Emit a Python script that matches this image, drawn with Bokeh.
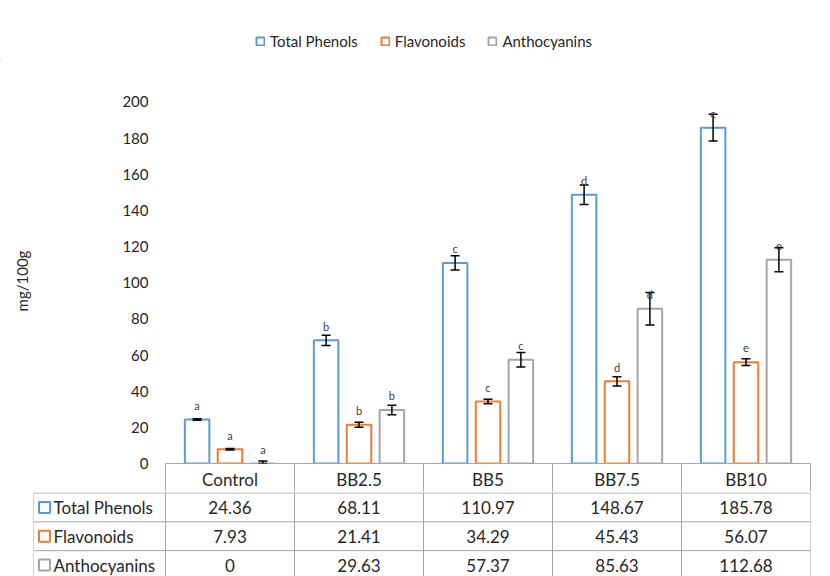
from bokeh.plotting import figure
from bokeh.models import (ColumnDataSource, Range1d, FixedTicker, LinearAxis,
                          Whisker, TeeHead, LabelSet, Legend, LegendItem)
from bokeh.core.properties import value
from bokeh.embed import file_html
from bokeh.resources import INLINE

# ---------------- data ----------------
categories = ["Control", "BB2.5", "BB5", "BB7.5", "BB10"]
series_names = ["Total Phenols", "Flavonoids", "Anthocyanins"]
total_phenols = [24.36, 68.11, 110.97, 148.67, 185.78]
flavonoids = [7.93, 21.41, 34.29, 45.43, 56.07]
anthocyanins = [0, 29.63, 57.37, 85.63, 112.68]
err_tp = [0.4, 2.8, 4.0, 5.4, 7.4]
err_fl = [0.4, 1.4, 1.3, 2.6, 1.9]
err_an = [1.4, 2.6, 4.0, 9.0, 6.6]
letters_tp = ["a", "b", "c", "d", "e"]
letters_fl = ["a", "b", "c", "d", "e"]
letters_an = ["a", "b", "c", "d", "e"]
y_ticks = [0, 20, 40, 60, 80, 100, 120, 140, 160, 180, 200]

colors = ["#5B9BD5", "#ED7D31", "#A5A5A5"]
FONT = "Lato"
TXT = "#262626"
GRID = "#A6A6A6"

values = [total_phenols, flavonoids, anthocyanins]
errors = [err_tp, err_fl, err_an]
letters = [letters_tp, letters_fl, letters_an]
offsets = [-0.255, 0.0, 0.255]
bar_w = 0.19
n_cat = len(categories)
centers = [i + 0.5 for i in range(n_cat)]
bounds = [i for i in range(n_cat + 1)]

W = 830
# ---------------- legend strip ----------------
p0_h = 60
p0 = figure(x_range=Range1d(0, W), y_range=Range1d(0, p0_h),
            width=W, height=p0_h, output_backend="svg", toolbar_location=None,
            min_border_left=0, min_border_right=0, min_border_top=0, min_border_bottom=0)
p0.outline_line_color = None
p0.xgrid.visible = False
p0.ygrid.visible = False
p0.xaxis.visible = False
p0.yaxis.visible = False
key_items = []
for name, col in zip(series_names, colors):
    # legend proxy: one bar kept far outside the visible strip, only its key is shown
    rk = p0.vbar(x=[-10 * W], top=[-10 * p0_h], bottom=[-11 * p0_h], width=1,
                 fill_color="white", line_color=col, line_width=2)
    key_items.append(LegendItem(label=name, renderers=[rk]))
lg = Legend(items=key_items, orientation="horizontal", location=(255, 10))
lg.border_line_color = None
lg.background_fill_alpha = 0
lg.padding = 0
lg.margin = 0
lg.spacing = 22
lg.glyph_width = 10
lg.glyph_height = 10
lg.label_standoff = 5
lg.label_text_font = FONT
lg.label_text_font_size = "15px"
lg.label_text_color = TXT
p0.add_layout(lg)

# ---------------- chart ----------------
p1 = figure(x_range=Range1d(0, n_cat), y_range=Range1d(0, 201.9),
            width=W, height=492 - p0_h, output_backend="svg", toolbar_location=None,
            x_axis_location=None,
            min_border_left=165, min_border_right=20, min_border_top=98 - p0_h,
            min_border_bottom=28)
p1.outline_line_color = None
p1.xgrid.visible = False
p1.ygrid.visible = False

# header row of the data table = category axis
xa = LinearAxis(ticker=FixedTicker(ticks=centers, minor_ticks=bounds),
                major_label_overrides={c: n for c, n in zip(centers, categories)})
xa.axis_line_color = GRID
xa.major_tick_line_color = None
xa.major_tick_out = 0
xa.major_tick_in = 0
xa.minor_tick_line_color = GRID
xa.minor_tick_out = 28
xa.minor_tick_in = 0
xa.major_label_standoff = -23
xa.major_label_text_font = FONT
xa.major_label_text_font_size = "17px"
xa.major_label_text_color = TXT
p1.add_layout(xa, "below")

p1.yaxis.ticker = FixedTicker(ticks=y_ticks)
p1.yaxis.axis_line_color = None
p1.yaxis.major_tick_line_color = None
p1.yaxis.minor_tick_line_color = None
p1.yaxis.major_tick_out = 0
p1.yaxis.major_label_standoff = 17
p1.yaxis.major_label_text_font = FONT
p1.yaxis.major_label_text_font_size = "15px"
p1.yaxis.major_label_text_color = TXT
p1.yaxis.axis_label = "mg/100g"
p1.yaxis.axis_label_text_font = FONT
p1.yaxis.axis_label_text_font_size = "15px"
p1.yaxis.axis_label_text_font_style = "normal"
p1.yaxis.axis_label_text_color = TXT
p1.yaxis.axis_label_standoff = 88

for name, vals, errs, lets, off, col in zip(series_names, values, errors, letters, offsets, colors):
    src = ColumnDataSource(dict(
        x=[c + off for c in centers], val=vals,
        upper=[v + e for v, e in zip(vals, errs)],
        lower=[max(0, v - e) for v, e in zip(vals, errs)],
        let=lets))
    p1.vbar(x="x", top="val", width=bar_w, source=src,
            fill_color="white", line_color=col, line_width=2)
    w = Whisker(base="x", upper="upper", lower="lower", source=src, level="annotation",
                line_color="black", line_width=1.5,
                upper_head=TeeHead(size=9, line_color="black", line_width=1.5),
                lower_head=TeeHead(size=9, line_color="black", line_width=1.5))
    p1.add_layout(w)
    lab = LabelSet(x="x", y="val", text="let", source=src, y_offset=14,
                   text_align="center", text_baseline="middle",
                   text_font=value(FONT), text_font_size="11px", text_color="#404040")
    p1.add_layout(lab)

# ---------------- data table body ----------------
row_px = 29.0
col_px = 129.0
label_w = (165 - 33) / col_px
n_rows = len(series_names)
p2_h = 84
p2 = figure(x_range=Range1d(-label_w, n_cat),
            y_range=Range1d(p2_h / row_px, -0.5 / row_px),
            width=W, height=p2_h, output_backend="svg", toolbar_location=None,
            min_border_left=33, min_border_right=20, min_border_top=0,
            min_border_bottom=0)
p2.outline_line_color = None
p2.xgrid.visible = False
p2.ygrid.visible = False
p2.xaxis.visible = False
p2.yaxis.visible = False

hy = list(range(0, n_rows + 1))
p2.segment(x0=[-label_w] * len(hy), y0=hy, x1=[n_cat] * len(hy), y1=hy,
           line_color=GRID, line_width=1)
vx = [-label_w] + bounds
p2.segment(x0=vx, y0=[0] * len(vx), x1=vx, y1=[n_rows + 1] * len(vx),
           line_color=GRID, line_width=1)

rows_y = [r + 0.5 for r in range(n_rows)]
p2.scatter(x=[-label_w + 11 / col_px] * n_rows, y=rows_y, marker="square",
           size=11, fill_color="white", line_color=colors, line_width=2)
p2.text(x=[-label_w + 20 / col_px] * n_rows, y=rows_y, text=series_names,
        text_align="left", text_baseline="middle", text_font=value(FONT),
        text_font_size="17px", text_color=TXT)

tx, ty, tt = [], [], []
for r, vals in enumerate(values):
    for i, v in enumerate(vals):
        tx.append(centers[i])
        ty.append(rows_y[r])
        tt.append("{:g}".format(v))
p2.text(x=tx, y=ty, text=tt, text_align="center", text_baseline="middle",
        text_font=value(FONT), text_font_size="17px", text_color=TXT)

open("out.html", "w").write(file_html([p0, p1, p2], INLINE))
